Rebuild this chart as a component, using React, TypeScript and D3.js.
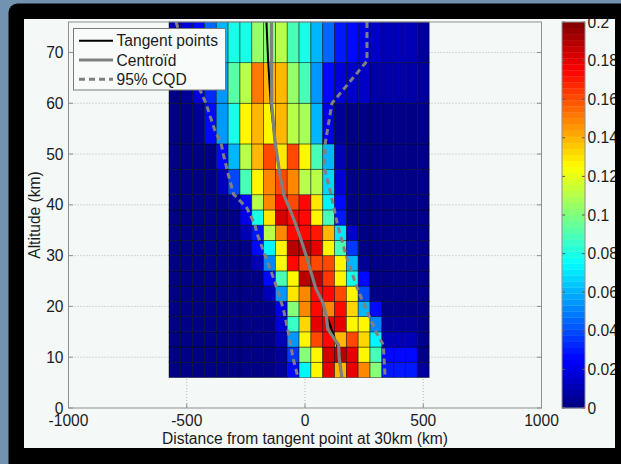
import React from 'react';
import * as d3 from 'd3';

// ---------------- DATA ----------------
// altitude bin edges (km), bottom to top
const altEdges = [6, 9, 12, 15, 18, 21, 24, 27, 30, 33, 36, 39, 42, 47, 52, 60, 68, 76];
// horizontal bin centres (km)
const binCenters = [-550, -500, -450, -400, -350, -300, -250, -200, -150, -100, -50, 0, 50, 100, 150, 200, 250, 300, 350, 400, 450, 500];
const binWidth = 50;

// density per altitude band (bottom -> top), one value per horizontal bin
const row06 = [.002,.002,.002,.002,.002,.002,.002,.002,.003,.004,.025,.075,.125,.18,.14,.18,.15,.1,.03,.03,.03,.004];
const row09 = [.002,.002,.002,.002,.002,.002,.002,.002,.002,.005,.035,.1,.125,.182,.19,.18,.125,.09,.028,.028,.028,.003];
const row12 = [.002,.002,.002,.002,.002,.002,.002,.002,.002,.01,.055,.125,.162,.172,.14,.16,.132,.075,.01,.01,.01,.003];
const row15 = [.002,.002,.002,.002,.002,.002,.002,.002,.002,.017,.085,.132,.18,.18,.18,.125,.125,.05,.005,.004,.004,.003];
const row18 = [.002,.002,.002,.002,.002,.002,.002,.002,.002,.02,.1,.15,.175,.15,.175,.132,.06,.025,.003,.003,.003,.003];
const row21 = [.002,.002,.002,.002,.002,.002,.002,.002,.012,.055,.13,.15,.175,.172,.162,.125,.04,.003,.003,.003,.003,.003];
const row24 = [.002,.002,.002,.002,.002,.002,.002,.002,.025,.088,.125,.19,.19,.165,.125,.08,.025,.003,.003,.003,.003,.003];
const row27 = [.002,.002,.002,.002,.002,.002,.002,.012,.05,.122,.172,.162,.162,.16,.125,.06,.005,.003,.003,.003,.003,.003];
const row30 = [.002,.002,.002,.002,.002,.002,.002,.025,.075,.125,.19,.19,.18,.125,.088,.035,.003,.003,.003,.003,.003,.003];
const row33 = [.002,.002,.002,.002,.002,.002,.012,.03,.112,.15,.175,.175,.17,.138,.07,.015,.003,.003,.003,.003,.003,.003];
const row36 = [.002,.002,.002,.002,.002,.002,.02,.08,.13,.182,.175,.175,.125,.09,.03,.002,.002,.002,.002,.002,.002,.002];
const row39 = [.002,.002,.002,.002,.002,.008,.025,.11,.15,.175,.162,.175,.13,.075,.025,.002,.002,.002,.002,.002,.002,.002];
const row42 = [.002,.002,.002,.002,.012,.04,.09,.125,.15,.16,.15,.112,.112,.068,.018,.002,.002,.002,.002,.002,.002,.002];
const row47 = [.002,.002,.002,.002,.025,.062,.112,.14,.162,.13,.162,.125,.088,.062,.012,.002,.002,.002,.002,.002,.002,.002];
const row52 = [.002,.002,.004,.028,.055,.08,.125,.138,.125,.138,.112,.108,.062,.02,.006,.002,.002,.002,.002,.002,.002,.002];
const row60 = [.003,.004,.018,.033,.055,.092,.112,.152,.14,.138,.104,.088,.055,.026,.016,.013,.013,.008,.007,.007,.007,.004];
const row68 = [.01,.017,.025,.044,.062,.08,.08,.104,.102,.112,.088,.08,.062,.044,.029,.025,.019,.013,.011,.011,.011,.006];
const density = [row06, row09, row12, row15, row18, row21, row24, row27, row30, row33, row36, row39, row42, row47, row52, row60, row68];

// lines
const tangentAlt = [76, 68.5, 60, 52.5, 46, 42, 39, 36, 30, 23.6, 20.7, 18.3, 16.9, 13, 11, 7.1, 6.1];
const tangentX = [-163, -156, -145, -127, -106, -89, -63, -38, 4, 46, 76, 89, 102, 131, 145, 152, 154];
const centroidAlt = [76, 60, 52.5, 45.9, 41.9, 39, 36, 33.7, 30.1, 23.5, 20.6, 18, 15.6, 13.6, 12.4, 9.7, 6.1];
const centroidX = [-142, -141, -127, -106, -89, -63, -38, -21, 4, 46, 77, 91, 96, 124, 142, 145, 156];
const cqdLeftAlt = [76, 68, 60, 54.5, 52.2, 49.9, 45.9, 42.1, 39.4, 36, 34.5, 30.1, 24.8, 19.6, 15, 9.7, 6.1];
const cqdLeftX = [-545, -495, -419, -380, -355, -345, -324, -302, -246, -211, -204, -169, -127, -92, -71, -50, -30];
const cqdRightAlt = [76, 68.3, 60, 52.2, 47.3, 42, 36, 30.1, 24.2, 19.5, 15, 12.4, 6.6, 6.1];
const cqdRightX = [262, 262, 114, 86, 82, 110, 138, 173, 216, 258, 300, 331, 338, 338];

const xTicks = [-1000, -500, 0, 500, 1000];
const xTickLabels = ['-1000', '-500', '0', '500', '1000'];
const yTicks = [0, 10, 20, 30, 40, 50, 60, 70];
const yTickLabels = ['0', '10', '20', '30', '40', '50', '60', '70'];
const cbTicks = [0, 0.02, 0.04, 0.06, 0.08, 0.1, 0.12, 0.14, 0.16, 0.18, 0.2];
const cbTickLabels = ['0', '0.02', '0.04', '0.06', '0.08', '0.1', '0.12', '0.14', '0.16', '0.18', '0.2'];
const legendLabels = ['Tangent points', 'Centroïd', '95% CQD'];

// ---------------- HELPERS ----------------
const W = 621, H = 464;
const AX = { left: 68.5, right: 541.5, top: 22, bottom: 408 };
const CB = { x: 562, w: 23 };
const FONT = '"Liberation Sans", Arial, Helvetica, sans-serif';
const FS = 15.6;
const NLEV = 64;
const CMAX = 0.2;

function clamp01(v: number) { return Math.max(0, Math.min(1, v)); }
function jet(t: number) {
  const r = clamp01(1.5 - Math.abs(4 * t - 3));
  const g = clamp01(1.5 - Math.abs(4 * t - 2));
  const b = clamp01(1.5 - Math.abs(4 * t - 1));
  return d3.rgb(r * 255, g * 255, b * 255).formatHex();
}
function colorFor(v: number) {
  const k = Math.max(0, Math.min(NLEV - 1, Math.floor((v / CMAX) * NLEV)));
  return jet((k + 0.5) / NLEV);
}

export default function App() {
  const x = d3.scaleLinear().domain([-1000, 1000]).range([AX.left, AX.right]);
  const y = d3.scaleLinear().domain([0, 76]).range([AX.bottom, AX.top]);
  const cy = d3.scaleLinear().domain([0, CMAX]).range([AX.bottom, AX.top]);

  const line = d3.line<[number, number]>().x(d => x(d[0])).y(d => y(d[1]));
  const tangentPath = line(tangentX.map((v, i) => [v, tangentAlt[i]]))!;
  const centroidPath = line(centroidX.map((v, i) => [v, centroidAlt[i]]))!;
  const cqdLPath = line(cqdLeftX.map((v, i) => [v, cqdLeftAlt[i]]))!;
  const cqdRPath = line(cqdRightX.map((v, i) => [v, cqdRightAlt[i]]))!;

  const cells: React.ReactNode[] = [];
  density.forEach((row, ri) => {
    row.forEach((v, ci) => {
      const x0 = x(binCenters[ci] - binWidth / 2);
      const x1 = x(binCenters[ci] + binWidth / 2);
      const y0 = y(altEdges[ri + 1]);
      const y1 = y(altEdges[ri]);
      cells.push(
        <rect key={`c${ri}-${ci}`} x={x0} y={y0} width={x1 - x0} height={y1 - y0}
          fill={colorFor(v)} stroke="#000" strokeOpacity={0.55} strokeWidth={0.8} />
      );
    });
  });

  const cbRects = d3.range(NLEV).map(k => {
    const v0 = (k / NLEV) * CMAX, v1 = ((k + 1) / NLEV) * CMAX;
    return <rect key={`cb${k}`} x={CB.x} y={cy(v1)} width={CB.w} height={cy(v0) - cy(v1) + 0.3}
      fill={jet((k + 0.5) / NLEV)} />;
  });

  const axisColor = '#8f8f8f';
  const gridColor = '#b5b5b5';
  const textColor = '#1c1c1c';
  const tl = 4.5;

  return (
    <svg width={W} height={H} style={{ position: 'absolute', left: 0, top: 0 }} fontFamily={FONT}>
      <defs>
        <clipPath id="panel"><rect x={24} y={19} width={591} height={429} /></clipPath>
      </defs>
      <rect x={0} y={0} width={W} height={H} fill="#7192b0" />
      <rect x={8.5} y={3.5} width={660} height={480} rx={9} fill="#000" />
      <rect x={24} y={19} width={591} height={429} fill="#f4f8f6" />
      <g clipPath="url(#panel)">
        {/* grid */}
        {yTicks.filter(t => t > 0).map(t => (
          <line key={`gy${t}`} x1={AX.left} x2={AX.right} y1={y(t)} y2={y(t)} stroke={gridColor} strokeWidth={1} strokeDasharray="1,2" />
        ))}
        {xTicks.filter(t => t > -1000 && t < 1000).map(t => (
          <line key={`gx${t}`} x1={x(t)} x2={x(t)} y1={AX.top} y2={AX.bottom} stroke={gridColor} strokeWidth={1} strokeDasharray="1,2" />
        ))}
        {/* ticks */}
        {yTicks.map(t => (
          <g key={`ty${t}`}>
            <line x1={AX.left} x2={AX.left + tl} y1={y(t)} y2={y(t)} stroke={axisColor} />
            <line x1={AX.right} x2={AX.right - tl} y1={y(t)} y2={y(t)} stroke={axisColor} />
          </g>
        ))}
        {xTicks.map(t => (
          <g key={`tx${t}`}>
            <line x1={x(t)} x2={x(t)} y1={AX.bottom} y2={AX.bottom - tl} stroke={axisColor} />
            <line x1={x(t)} x2={x(t)} y1={AX.top} y2={AX.top + tl} stroke={axisColor} />
          </g>
        ))}
        {/* heatmap */}
        {cells}
        {/* lines */}
        <path d={tangentPath} fill="none" stroke="#000" strokeWidth={2} />
        <path d={centroidPath} fill="none" stroke="#808080" strokeWidth={3.2} strokeLinejoin="round" />
        <path d={cqdLPath} fill="none" stroke="#808080" strokeWidth={3} strokeDasharray="6,4" />
        <path d={cqdRPath} fill="none" stroke="#808080" strokeWidth={3} strokeDasharray="6,4" />
        {/* axes box */}
        <rect x={AX.left} y={AX.top} width={AX.right - AX.left} height={AX.bottom - AX.top} fill="none" stroke={axisColor} strokeWidth={1} />
        {/* tick labels */}
        {yTicks.map((t, i) => (
          <text key={`ly${t}`} x={AX.left - 5} y={y(t)} dy="0.36em" textAnchor="end" fontSize={FS} fill={textColor}>{yTickLabels[i]}</text>
        ))}
        {xTicks.map((t, i) => (
          <text key={`lx${t}`} x={x(t)} y={425.5} textAnchor="middle" fontSize={FS} fill={textColor}>{xTickLabels[i]}</text>
        ))}
        <text x={(AX.left + AX.right) / 2} y={443.5} textAnchor="middle" fontSize={FS} fill={textColor}>Distance from tangent point at 30km (km)</text>
        <text transform={`translate(40,${(AX.top + AX.bottom) / 2}) rotate(-90)`} textAnchor="middle" fontSize={FS} fill={textColor}>Altitude (km)</text>
        {/* legend */}
        <rect x={73.5} y={28.5} width={152} height={61.5} fill="#f8fbfa" stroke="#7a7a7a" strokeWidth={1} />
        <line x1={79} x2={113} y1={40.7} y2={40.7} stroke="#000" strokeWidth={2} />
        <line x1={79} x2={113} y1={60} y2={60} stroke="#808080" strokeWidth={3.2} />
        <line x1={79} x2={113} y1={79.3} y2={79.3} stroke="#808080" strokeWidth={3} strokeDasharray="6,4" />
        {legendLabels.map((l, i) => (
          <text key={l} x={116.5} y={[40.7, 60, 79.3][i]} dy="0.36em" fontSize={FS} fill={textColor}>{l}</text>
        ))}
        {/* colorbar */}
        {cbRects}
        {cbTicks.map(t => (
          <g key={`cbt${t}`}>
            <line x1={CB.x} x2={CB.x + 3} y1={cy(t)} y2={cy(t)} stroke="#555" />
            <line x1={CB.x + CB.w} x2={CB.x + CB.w - 3} y1={cy(t)} y2={cy(t)} stroke="#555" />
          </g>
        ))}
        <rect x={CB.x} y={AX.top} width={CB.w} height={AX.bottom - AX.top} fill="none" stroke={axisColor} />
        {cbTicks.map((t, i) => (
          <text key={`cbl${t}`} x={CB.x + CB.w + 2.5} y={cy(t)} dy="0.36em" fontSize={FS} fill={textColor}>{cbTickLabels[i]}</text>
        ))}
      </g>
    </svg>
  );
}
